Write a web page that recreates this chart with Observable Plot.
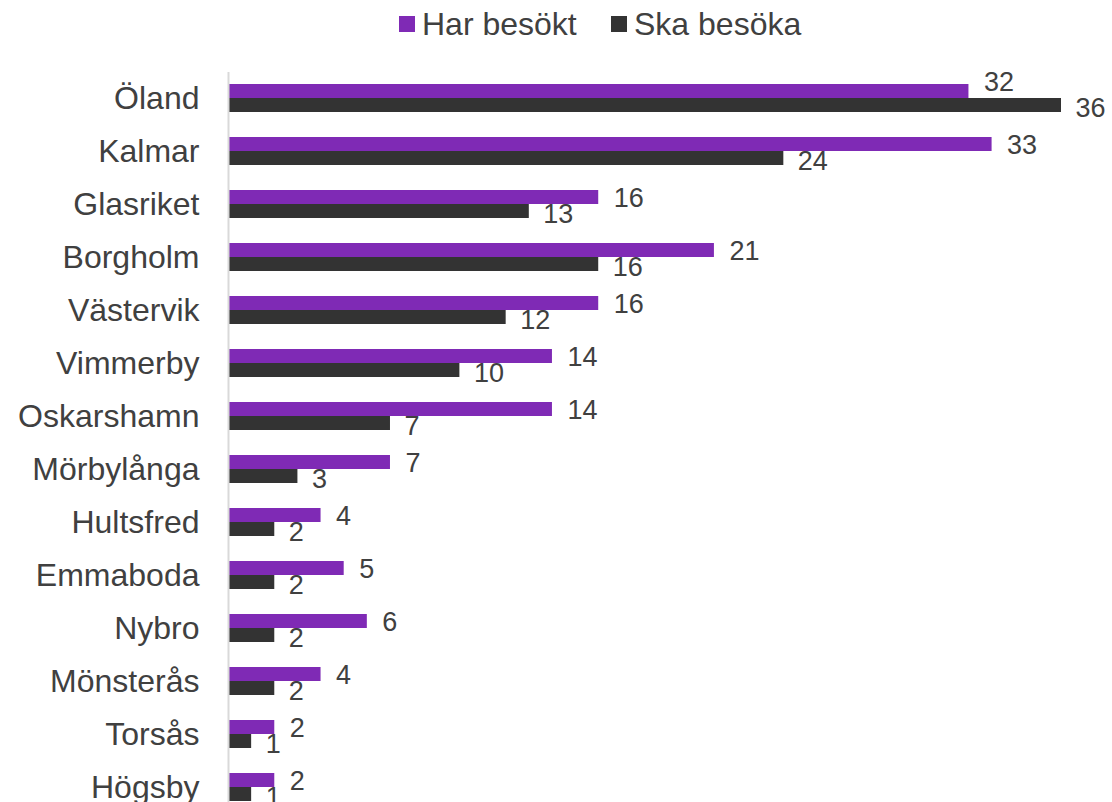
<!DOCTYPE html>
<html>
<head>
<meta charset="utf-8">
<script src="https://cdn.jsdelivr.net/npm/d3@7"></script>
<script src="https://cdn.jsdelivr.net/npm/@observablehq/plot@0.6"></script>
<style>
  html, body { margin: 0; padding: 0; background: #fff; overflow: hidden; }
  body { width: 1112px; height: 802px; font-family: "Liberation Sans", Arial, sans-serif; }
  #legend { position: relative; height: 50px; font-size: 32px; color: #404040; }
  .item { position: absolute; top: 0; height: 48px; display: flex; align-items: center; }
  .sw { width: 16px; height: 16px; margin-right: 7px; }
</style>
</head>
<body>
<div id="legend"></div>
<div id="chart"></div>
<script>
const categories = ["Öland","Kalmar","Glasriket","Borgholm","Västervik","Vimmerby","Oskarshamn","Mörbylånga","Hultsfred","Emmaboda","Nybro","Mönsterås","Torsås","Högsby"];
const harBesokt = [32,33,16,21,16,14,14,7,4,5,6,4,2,2];
const skaBesoka = [36,24,13,16,12,10,7,3,2,2,2,2,1,1];
const seriesNames = ["Har besökt","Ska besöka"];
const colors = ["#7f2ab5","#333333"];

const legend = document.getElementById("legend");
const legendLeft = [399, 611];
seriesNames.forEach((s,i) => {
  const it = document.createElement("div"); it.className = "item"; it.style.left = legendLeft[i] + "px";
  const sw = document.createElement("div"); sw.className = "sw"; sw.style.background = colors[i];
  const t = document.createElement("span"); t.textContent = s;
  it.appendChild(sw); it.appendChild(t); legend.appendChild(it);
});

const dataA = categories.map((c,i) => ({cat: c, v: harBesokt[i], other: skaBesoka[i]}));
const dataB = categories.map((c,i) => ({cat: c, v: skaBesoka[i]}));
// purple labels sit above their bar when the dark bar below would run under them
const aNormal = dataA.filter(d => d.other <= d.v);
const aAbove = dataA.filter(d => d.other > d.v);

const chart = Plot.plot({
  width: 1112,
  height: 752,
  marginLeft: 228,
  marginRight: 51,
  marginTop: 22,
  marginBottom: 0,
  style: {fontFamily: "Liberation Sans, Arial, sans-serif", color: "#404040", background: "#fff"},
  x: {domain: [0, 36], axis: null},
  y: {domain: categories, range: [9, 776.5], padding: 0.472, label: null},
  marks: [
    Plot.axisY({tickSize: 0, tickPadding: 29, fontSize: 32, label: null, fill: "#404040"}),
    Plot.barX(dataA, {x: "v", y: "cat", fill: colors[0], insetBottom: 14, insetTop: 0}),
    Plot.barX(dataB, {x: "v", y: "cat", fill: colors[1], insetTop: 14, insetBottom: 0}),
    Plot.text(aNormal, {x: "v", y: "cat", text: d => String(d.v), dx: 15, dy: -6, textAnchor: "start", fontSize: 27, fill: "#404040"}),
    Plot.text(aAbove, {x: "v", y: "cat", text: d => String(d.v), dx: 15, dy: -16, textAnchor: "start", fontSize: 27, fill: "#404040"}),
    Plot.text(dataB, {x: "v", y: "cat", text: d => String(d.v), dx: 14, dy: 10, textAnchor: "start", fontSize: 27, fill: "#404040"}),
    Plot.ruleX([0], {stroke: "#d9d9d9", strokeWidth: 2})
  ]
});
document.getElementById("chart").appendChild(chart);
</script>
</body>
</html>
